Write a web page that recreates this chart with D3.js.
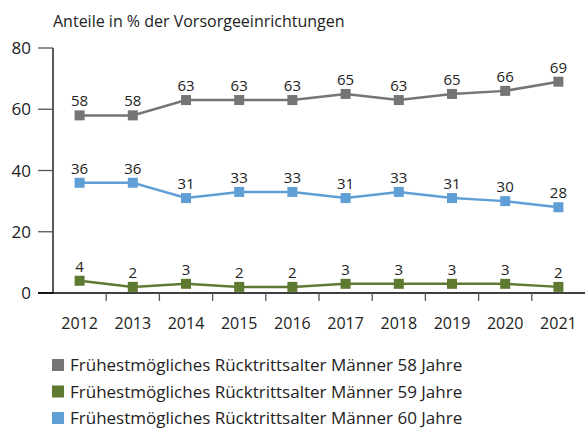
<!DOCTYPE html>
<html>
<head>
<meta charset="utf-8">
<script src="https://cdn.jsdelivr.net/npm/d3@7"></script>
<style>
body { margin: 0; background: #fff; }
text { font-family: "Open Sans", "Noto Sans", sans-serif; fill: #222; }
</style>
</head>
<body>
<div id="chart"></div>
<script>
let years = ["2012", "2013", "2014", "2015", "2016", "2017", "2018", "2019", "2020", "2021"];
let age58 = [58, 58, 63, 63, 63, 65, 63, 65, 66, 69];
let age59 = [4, 2, 3, 2, 2, 3, 3, 3, 3, 2];
let age60 = [36, 36, 31, 33, 33, 31, 33, 31, 30, 28];
let seriesNames = [
    "Frühestmögliches Rücktrittsalter Männer 58 Jahre",
    "Frühestmögliches Rücktrittsalter Männer 59 Jahre",
    "Frühestmögliches Rücktrittsalter Männer 60 Jahre"
];
let yTicks = [0, 20, 40, 60, 80];

let width = 585;
let height = 430;
let colors = ["#757575", "#5e7a31", "#5f9fd6"];

let series = [age58, age59, age60];

let svg = d3.select("#chart")
    .append("svg")
    .attr("width", width)
    .attr("height", height);

let x = d3.scaleBand()
    .domain(years)
    .range([53, 585]);

let y = d3.scaleLinear()
    .domain([0, 80])
    .range([293, 48]);

// title
svg.append("text")
    .attr("x", 53)
    .attr("y", 27)
    .style("font-size", "16px")
    .text("Anteile in % der Vorsorgeeinrichtungen");

// y axis
svg.append("line")
    .attr("x1", 53).attr("x2", 53)
    .attr("y1", y(80)).attr("y2", y(0))
    .attr("stroke", "#000").attr("stroke-width", 1.3);

svg.selectAll(".ytick")
    .data(yTicks)
    .enter()
    .append("line")
    .attr("x1", 38).attr("x2", 53)
    .attr("y1", d => y(d)).attr("y2", d => y(d))
    .attr("stroke", d => d == 0 ? "#000" : "#555")
    .attr("stroke-width", 1.3);

svg.selectAll(".ylabel")
    .data(yTicks)
    .enter()
    .append("text")
    .attr("x", 31)
    .attr("y", d => y(d))
    .attr("dy", "0.36em")
    .attr("text-anchor", "end")
    .style("font-size", "17px")
    .text(d => d);

// x axis
svg.append("line")
    .attr("x1", 38).attr("x2", width)
    .attr("y1", y(0)).attr("y2", y(0))
    .attr("stroke", "#000").attr("stroke-width", 1.3);

svg.selectAll(".xtick")
    .data(years.slice(1))
    .enter()
    .append("line")
    .attr("x1", d => x(d)).attr("x2", d => x(d))
    .attr("y1", y(0)).attr("y2", y(0) + 8)
    .attr("stroke", "#555").attr("stroke-width", 1.3);

svg.selectAll(".xlabel")
    .data(years)
    .enter()
    .append("text")
    .attr("x", d => x(d) + x.bandwidth() / 2)
    .attr("y", 329)
    .attr("text-anchor", "middle")
    .style("font-size", "16px")
    .text(d => d);

let line = d3.line()
    .x((d, i) => x(years[i]) + x.bandwidth() / 2)
    .y(d => y(d));

series.forEach(function(vals, s) {
    let g = svg.append("g");
    g.append("path")
        .datum(vals)
        .attr("d", line)
        .attr("fill", "none")
        .attr("stroke", colors[s])
        .attr("stroke-width", 2.5);
    g.selectAll("rect")
        .data(vals)
        .enter()
        .append("rect")
        .attr("x", (d, i) => x(years[i]) + x.bandwidth() / 2 - 5)
        .attr("y", d => y(d) - 5)
        .attr("width", 10)
        .attr("height", 10)
        .attr("fill", colors[s]);
    g.selectAll("text")
        .data(vals)
        .enter()
        .append("text")
        .attr("x", (d, i) => x(years[i]) + x.bandwidth() / 2)
        .attr("y", d => y(d) - 9)
        .attr("text-anchor", "middle")
        .style("font-size", "15px")
        .text(d => d);
});

// legend
let legend = svg.selectAll(".legend")
    .data(seriesNames)
    .enter()
    .append("g")
    .attr("transform", (d, i) => "translate(52," + (365 + i * 26.5) + ")");

legend.append("rect")
    .attr("x", 0)
    .attr("y", -6)
    .attr("width", 12)
    .attr("height", 12)
    .attr("fill", (d, i) => colors[i]);

legend.append("text")
    .attr("x", 18)
    .attr("dy", "0.36em")
    .style("font-size", "17px")
    .text(d => d);
</script>
</body>
</html>
